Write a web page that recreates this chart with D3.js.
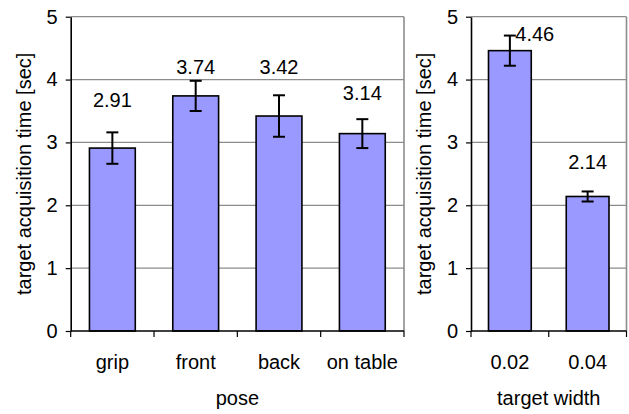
<!DOCTYPE html>
<html><head><meta charset="utf-8">
<script src="https://cdn.jsdelivr.net/npm/d3@7"></script>
<style>
html,body{margin:0;padding:0;background:#fff;}
text{font-family:"Liberation Sans",Arial,sans-serif;fill:#000;}
</style></head>
<body><svg id="c" width="629" height="414"></svg>
<script>
const poseCats = ["grip", "front", "back", "on table"];
const poseMeans = [2.91, 3.74, 3.42, 3.14];
const poseErr = [0.25, 0.24, 0.33, 0.23];
const poseLabelAt = [3.67, 4.20, 4.20, 3.78];
const poseLabelShift = [0, 0, 0, 0];

const widthCats = ["0.02", "0.04"];
const widthMeans = [4.46, 2.14];
const widthErr = [0.24, 0.08];
const widthLabelAt = [4.73, 2.69];
const widthLabelShift = [0.32, 0];

const yTicks = [0, 1, 2, 3, 4, 5];
const yTitle = "target acquisition time [sec]";

const svg = d3.select("#c");
const FS = 20;

function panel(cfg) {
  const {x0, x1, y0, y1, cats, means, errs, labelAt, labelShift, xTitle, titleX} = cfg;
  const x = d3.scaleBand().domain(cats).range([x0, x1]).paddingInner(0.45).paddingOuter(0.225);
  const xb = d3.scaleBand().domain(cats).range([x0, x1]).padding(0);
  const y = d3.scaleLinear().domain([0, 5]).range([y0, y1]);
  const g = svg.append("g");

  g.selectAll("line.grid").data(yTicks.filter(t => t > 0)).join("line")
    .attr("x1", x0).attr("x2", x1).attr("y1", d => y(d)).attr("y2", d => y(d))
    .attr("stroke", "#8c8c8c").attr("stroke-width", 1.2);
  g.append("line").attr("x1", x1).attr("x2", x1).attr("y1", y(5)).attr("y2", y(0))
    .attr("stroke", "#8c8c8c").attr("stroke-width", 1.6);

  g.selectAll("rect.bar").data(cats).join("rect")
    .attr("x", d => x(d)).attr("width", x.bandwidth())
    .attr("y", (d, i) => y(means[i])).attr("height", (d, i) => y(0) - y(means[i]))
    .attr("fill", "#9999ff").attr("stroke", "#000").attr("stroke-width", 1.6);

  const cx = d => x(d) + x.bandwidth() / 2;
  const eg = g.selectAll("g.err").data(cats).join("g");
  eg.append("line").attr("x1", cx).attr("x2", cx)
    .attr("y1", (d, i) => y(means[i] + errs[i])).attr("y2", (d, i) => y(means[i] - errs[i]))
    .attr("stroke", "#000").attr("stroke-width", 2);
  eg.append("line").attr("x1", d => cx(d) - 6).attr("x2", d => cx(d) + 6)
    .attr("y1", (d, i) => y(means[i] + errs[i])).attr("y2", (d, i) => y(means[i] + errs[i]))
    .attr("stroke", "#000").attr("stroke-width", 2);
  eg.append("line").attr("x1", d => cx(d) - 6).attr("x2", d => cx(d) + 6)
    .attr("y1", (d, i) => y(means[i] - errs[i])).attr("y2", (d, i) => y(means[i] - errs[i]))
    .attr("stroke", "#000").attr("stroke-width", 2);

  g.selectAll("text.val").data(cats).join("text")
    .attr("x", (d, i) => cx(d) + labelShift[i] * xb.bandwidth())
    .attr("y", (d, i) => y(labelAt[i]))
    .attr("dy", "0.35em").attr("text-anchor", "middle").attr("font-size", FS)
    .text((d, i) => means[i].toFixed(2));

  const ya = d3.axisLeft(y).tickValues(yTicks).tickSize(5).tickSizeOuter(0).tickPadding(8)
    .tickFormat(d3.format("d"));
  const yg = g.append("g").attr("transform", `translate(${x0},0)`).call(ya);
  yg.select(".domain").attr("stroke", "#000").attr("stroke-width", 1.6);
  yg.selectAll(".tick line").attr("stroke", "#000").attr("stroke-width", 1.2);
  yg.selectAll(".tick text").attr("font-size", FS).attr("font-family", "Liberation Sans, Arial, sans-serif").attr("fill", "#000");

  const xa = g.append("g");
  xa.append("line").attr("x1", x0).attr("x2", x1).attr("y1", y(0)).attr("y2", y(0))
    .attr("stroke", "#000").attr("stroke-width", 1.6);
  const bounds = cats.map(c => xb(c)).concat([x1]);
  xa.selectAll("line.t").data(bounds).join("line")
    .attr("x1", d => d).attr("x2", d => d).attr("y1", y(0)).attr("y2", y(0) + 6)
    .attr("stroke", "#000").attr("stroke-width", 1.2);
  xa.selectAll("text.c").data(cats).join("text")
    .attr("x", d => xb(d) + xb.bandwidth() / 2).attr("y", y(0) + 31)
    .attr("dy", "0.35em").attr("text-anchor", "middle").attr("font-size", FS)
    .text(d => d);
  g.append("text").attr("x", (x0 + x1) / 2).attr("y", 398).attr("dy", "0.35em")
    .attr("text-anchor", "middle").attr("font-size", FS).text(xTitle);
  g.append("text").attr("transform", `translate(${titleX},${(y0 + y1) / 2}) rotate(-90)`)
    .attr("dy", "0.35em").attr("text-anchor", "middle").attr("font-size", FS).text(yTitle);
}

panel({x0: 70.7, x1: 404, y0: 331, y1: 16.7, cats: poseCats, means: poseMeans, errs: poseErr,
  labelAt: poseLabelAt, labelShift: poseLabelShift, xTitle: "pose", titleX: 24});
panel({x0: 471, x1: 626.5, y0: 331, y1: 16.7, cats: widthCats, means: widthMeans, errs: widthErr,
  labelAt: widthLabelAt, labelShift: widthLabelShift, xTitle: "target width", titleX: 424});
</script></body></html>
